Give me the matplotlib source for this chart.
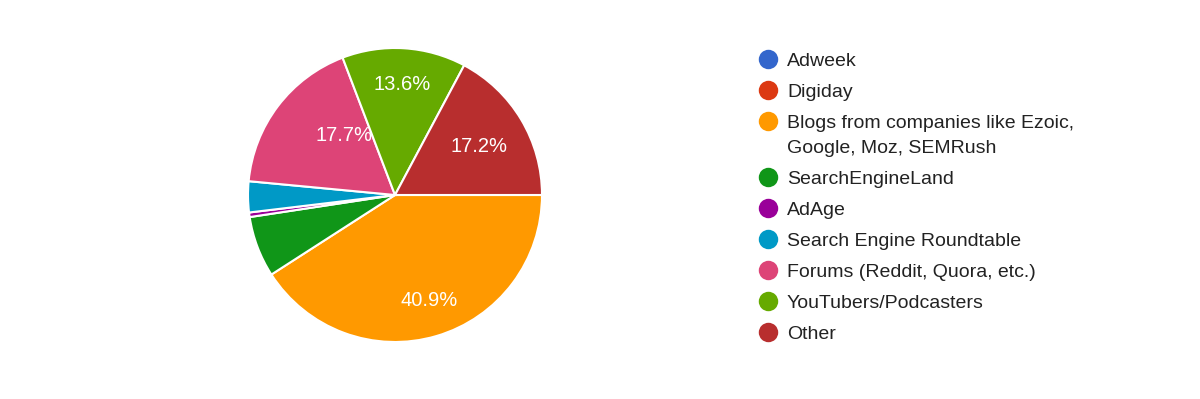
import matplotlib
matplotlib.use("Agg")
import matplotlib.pyplot as plt
import numpy as np

categories = ["Adweek", "Digiday", "Blogs from companies like Ezoic,\nGoogle, Moz, SEMRush",
              "SearchEngineLand", "AdAge", "Search Engine Roundtable",
              "Forums (Reddit, Quora, etc.)", "YouTubers/Podcasters", "Other"]
values = [0.0, 0.0, 40.9, 6.7, 0.5, 3.4, 17.7, 13.6, 17.2]
colors = ["#3366cc", "#dc3912", "#ff9900", "#109618", "#990099",
          "#0099c6", "#dd4477", "#66aa00", "#b82e2e"]

plt.rcParams['font.family'] = ['Liberation Sans', 'DejaVu Sans']

W, H = 1200, 399
fig = plt.figure(figsize=(W / 100, H / 100), dpi=100)
fig.patch.set_facecolor("white")

# pie axes
cx, cy, r = 395, 195, 147
ax = fig.add_axes([(cx - r) / W, (H - cy - r) / H, 2 * r / W, 2 * r / H])
nz = [i for i, v in enumerate(values) if v > 0]
wedges, _ = ax.pie([values[i] for i in nz], colors=[colors[i] for i in nz],
                   startangle=0, counterclock=False, radius=1,
                   wedgeprops=dict(edgecolor="white", linewidth=1.5))
ax.set_xlim(-1, 1)
ax.set_ylim(-1, 1)
ax.set_aspect("equal")
ax.axis("off")

# per-label placement style: (radius fraction, angle offset in degrees)
label_place = {2: (0.74, 2.0), 6: (0.54, -13.0), 7: (0.77, 0.0), 8: (0.67, 0.0)}
for w, i in zip(wedges, nz):
    v = values[i]
    if v >= 10:
        d, off = label_place.get(i, (0.7, 0.0))
        ang = np.deg2rad((w.theta1 + w.theta2) / 2 + off)
        ax.text(d * np.cos(ang), d * np.sin(ang), f"{v:.1f}%", color="white",
                ha="center", va="center_baseline", fontsize=14.5)

# legend
lax = fig.add_axes([0, 0, 1, 1])
lax.set_xlim(0, W)
lax.set_ylim(H, 0)
lax.axis("off")
y = 59
step = 31
line_h = 25
for name, col in zip(categories, colors):
    lax.plot([768], [y], marker="o", markersize=14, color=col, markeredgewidth=0)
    lines = name.split("\n")
    for k, ln in enumerate(lines):
        lax.text(787, y + k * line_h + 7, ln, fontsize=14, va="baseline", ha="left", color="#222222")
    y += step + (len(lines) - 1) * line_h

fig.savefig("out.png", dpi=100, facecolor="white")
